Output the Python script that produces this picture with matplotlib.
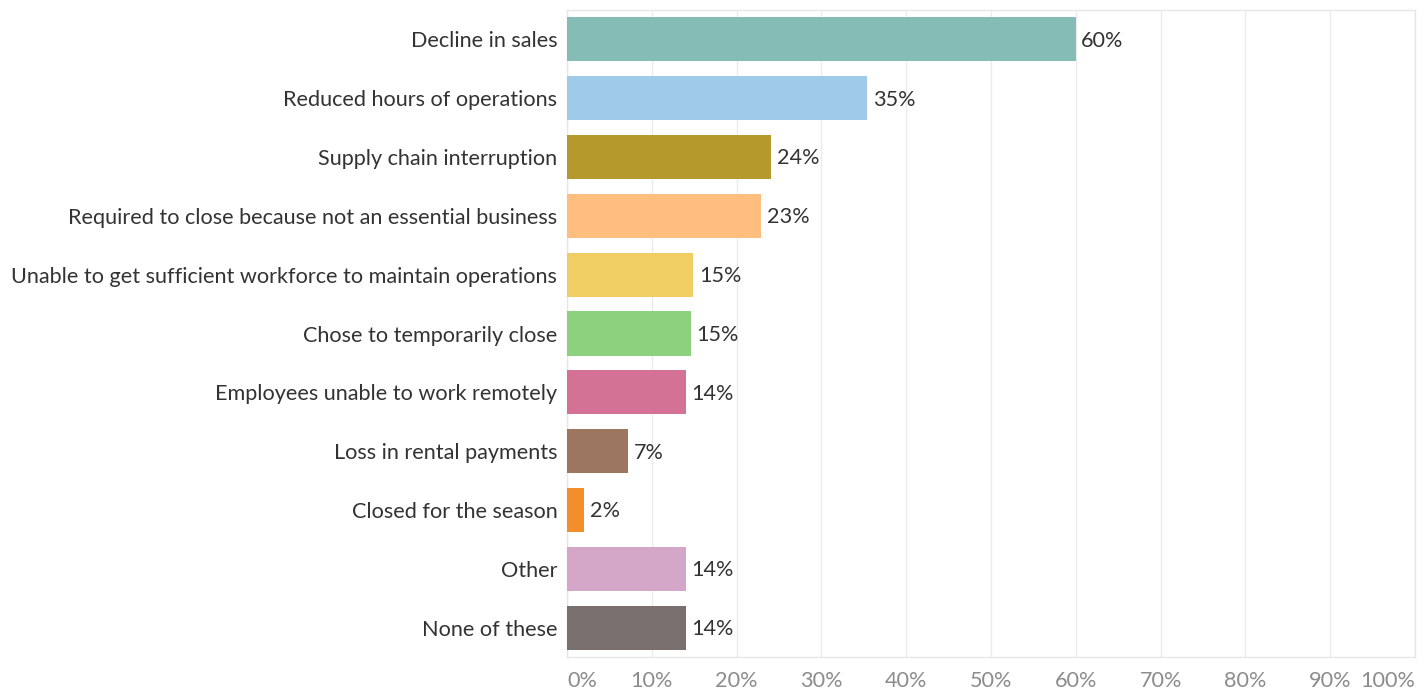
import matplotlib
matplotlib.use("Agg")
import matplotlib.pyplot as plt

categories = [
    "Decline in sales",
    "Reduced hours of operations",
    "Supply chain interruption",
    "Required to close because not an essential business",
    "Unable to get sufficient workforce to maintain operations",
    "Chose to temporarily close",
    "Employees unable to work remotely",
    "Loss in rental payments",
    "Closed for the season",
    "Other",
    "None of these",
]
values = [60.0, 35.4, 24.1, 22.9, 14.9, 14.6, 14.0, 7.2, 2.0, 14.0, 14.0]
bar_colors = ["#86BCB6", "#A0CBE8", "#B6992D", "#FFBE7D", "#F1CE63", "#8CD17D",
              "#D37295", "#9D7660", "#F28E2B", "#D4A6C8", "#79706E"]
x_ticks = [0, 10, 20, 30, 40, 50, 60, 70, 80, 90, 100]

plt.rcParams["font.family"] = ["Lato", "DejaVu Sans"]
fs = 15.6

fig = plt.figure(figsize=(14.24, 6.96), dpi=100)
ax = fig.add_axes([567 / 1424, 1 - 657 / 696, (1415 - 567) / 1424, (657 - 10) / 696])

ypos = list(range(len(categories)))
ax.barh(ypos, values, height=0.75, color=bar_colors, zorder=3)

for y, v in zip(ypos, values):
    ax.annotate(f"{round(v)}%", xy=(v, y), xytext=(4, -1), textcoords="offset points",
                va="center", ha="left", fontsize=fs, color="#333333")

ax.set_xlim(0, 100)
ax.set_ylim(len(categories) - 0.5, -0.5)
ax.set_yticks(ypos)
ax.set_yticklabels(categories, fontsize=fs, color="#333333")
ax.set_xticks(x_ticks)
ax.set_xticklabels([f"{t}%" for t in x_ticks], fontsize=fs, color="#8C8C8C")
xl = ax.get_xticklabels()
xl[0].set_ha("left")
xl[-1].set_ha("right")

ax.tick_params(axis="y", length=0, pad=7)
ax.tick_params(axis="x", length=0, pad=10)
ax.grid(axis="x", color="#EBEBEB", linewidth=1, zorder=0)

for side in ["top", "right", "left", "bottom"]:
    ax.spines[side].set_color("#E6E6E6")
    ax.spines[side].set_linewidth(1)

fig.savefig("out.png", dpi=100)
